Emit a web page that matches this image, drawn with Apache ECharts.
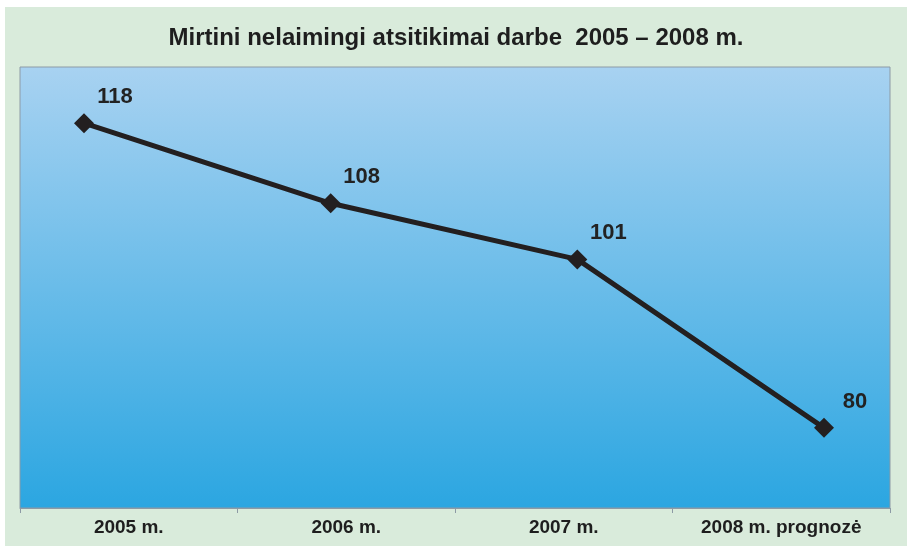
<!DOCTYPE html>
<html>
<head>
<meta charset="utf-8">
<script src="https://cdn.jsdelivr.net/npm/echarts@6/dist/echarts.min.js"></script>
<style>
  html, body { margin: 0; padding: 0; background: #ffffff; }
  #chart { position: absolute; left: 5px; top: 7px; width: 902px; height: 539px; }
</style>
</head>
<body>
<div id="chart"></div>
<script>
  // duomenys
  const categories = ['2005 m.', '2006 m.', '2007 m.', '2008 m. prognozė'];
  const deaths = [118, 108, 101, 80];

  const myChart = echarts.init(document.getElementById('chart'));
  const font = '"Liberation Sans", Arial, sans-serif';

  const option = {
    backgroundColor: '#d9ebdb',
    animation: false,
    title: {
      text: 'Mirtini nelaimingi atsitikimai darbe  2005 – 2008 m.',
      left: 'center',
      top: 14,
      textStyle: { fontFamily: font, fontSize: 24, fontWeight: 'bold', color: '#1e1e1e' }
    },
    grid: [
      {
        left: 15, right: 17, top: 60, bottom: 38,
        show: true,
        borderColor: '#8d9aa5',
        borderWidth: 1,
        backgroundColor: new echarts.graphic.LinearGradient(0, 0, 0, 1, [
          { offset: 0, color: '#a8d2f1' },
          { offset: 1, color: '#2ba6e1' }
        ])
      },
      { left: 79, right: 83, top: 60, bottom: 38 }
    ],
    xAxis: [
      {
        type: 'category',
        gridIndex: 0,
        data: categories,
        boundaryGap: true,
        axisLine: { lineStyle: { color: '#8d9aa5', width: 1 } },
        axisTick: { show: true, length: 5, lineStyle: { color: '#8d9aa5' } },
        axisLabel: { margin: 10, fontFamily: font, fontSize: 19, fontWeight: 'bold', color: '#1e1e1e' }
      },
      {
        type: 'category',
        gridIndex: 1,
        data: categories,
        boundaryGap: false,
        show: false
      }
    ],
    yAxis: [
      { type: 'value', gridIndex: 0, show: false, splitLine: { show: false } },
      { type: 'value', gridIndex: 1, min: 70, max: 125, show: false, splitLine: { show: false } }
    ],
    series: [
      {
        name: 'Mirtini nelaimingi atsitikimai',
        type: 'line',
        xAxisIndex: 1,
        yAxisIndex: 1,
        data: deaths,
        symbol: 'diamond',
        symbolSize: 20,
        lineStyle: { color: '#231f20', width: 5 },
        itemStyle: { color: '#231f20' },
        label: {
          show: true,
          position: 'top',
          offset: [31, 0],
          fontFamily: font,
          fontSize: 22,
          fontWeight: 'bold',
          color: '#222222'
        }
      }
    ]
  };
  myChart.setOption(option);
</script>
</body>
</html>
